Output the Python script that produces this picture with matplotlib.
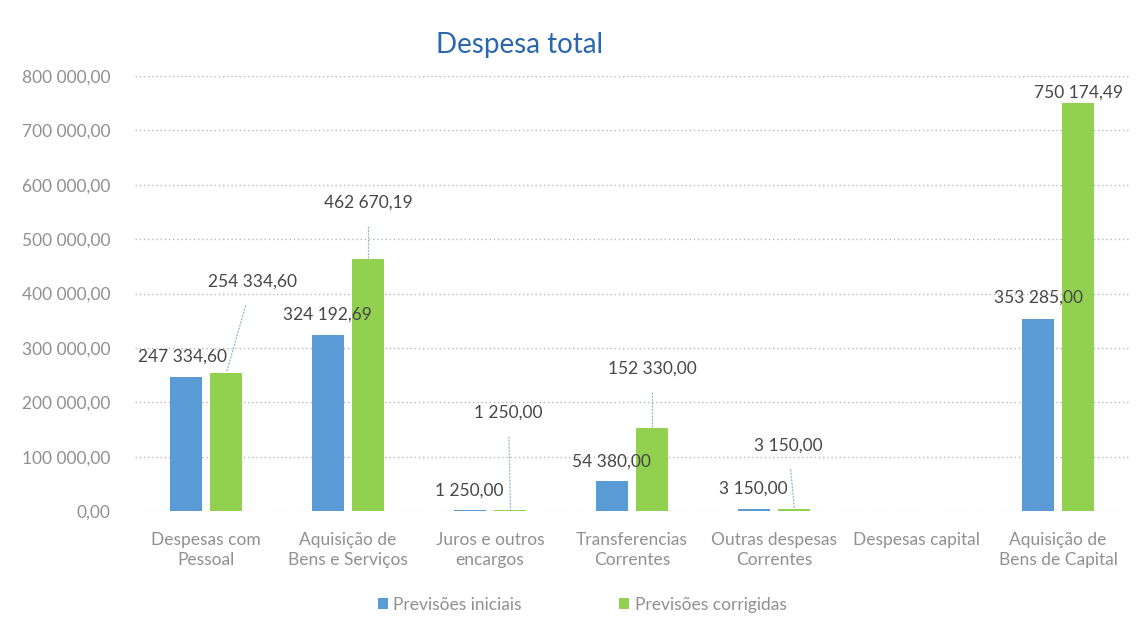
import numpy as np
import matplotlib
matplotlib.use("Agg")
import matplotlib.pyplot as plt
from matplotlib.ticker import FuncFormatter

# Data
categories = [
    "Despesas com\nPessoal",
    "Aquisição de\nBens e Serviços",
    "Juros e outros\nencargos",
    "Transferencias\nCorrentes",
    "Outras despesas\nCorrentes",
    "Despesas capital",
    "Aquisição de\nBens de Capital",
]
previsoes_iniciais = [247334.60, 324192.69, 1250.00, 54380.00, 3150.00, np.nan, 353285.00]
previsoes_corrigidas = [254334.60, 462670.19, 1250.00, 152330.00, 3150.00, np.nan, 750174.49]
series_names = ["Previsões iniciais", "Previsões corrigidas"]

# label offsets in pixels (dx, dy) from bar top, as placed in the original
offs_iniciais = [(-3, 20), (0, 20), (0, 20), (0, 20), (0, 21), None, (1, 21)]
offs_corrigidas = [(26, 91), (0, 57), (-2, 98), (0, 60), (-6, 64), None, (0, 10)]

BLUE = "#5B9BD5"
GREEN = "#92D050"
LABEL_COLOR = "#474747"
TICK_COLOR = "#909090"

plt.rcParams["font.family"] = ["Lato", "DejaVu Sans"]


def fmt_pt(v, pos=None):
    return f"{v:,.2f}".replace(",", " ").replace(".", ",")


fig = plt.figure(figsize=(11.44, 6.31), dpi=100)
ax = fig.add_axes([135 / 1144, 1 - 511 / 631, (1129 - 135) / 1144, (511 - 76) / 631])

x = np.arange(len(categories))
width = 0.225
off = 0.144
b1 = ax.bar(x - off, previsoes_iniciais, width, color=BLUE, label=series_names[0], zorder=3)
b2 = ax.bar(x + off, previsoes_corrigidas, width, color=GREEN, label=series_names[1], zorder=3)

ax.set_xlim(-0.5, len(categories) - 0.5)
ax.set_ylim(0, 800000)
ax.set_yticks(np.arange(0, 800001, 100000))
ax.yaxis.set_major_formatter(FuncFormatter(fmt_pt))
ax.set_xticks(x)
ax.set_xticklabels(categories, va="top", linespacing=1.3)
ax.tick_params(axis="both", length=0, labelsize=12.5, colors=TICK_COLOR)
ax.tick_params(axis="x", pad=15)
ax.tick_params(axis="y", pad=18)
ax.grid(axis="y", linestyle=(0, (1, 2)), color="#B8B8B8", linewidth=1.0, zorder=0)
for s in ax.spines.values():
    s.set_visible(False)


def add_labels(xs, vals, offsets):
    for xi, v, o in zip(xs, vals, offsets):
        if o is None or np.isnan(v):
            continue
        dx, dy = o
        leader = dy > 40
        ax.annotate(
            fmt_pt(v), xy=(xi, v), xytext=(dx, dy), textcoords="offset pixels",
            ha="center", va="center", fontsize=12.5, color=LABEL_COLOR, zorder=5,
            arrowprops=dict(arrowstyle="-", linestyle=":", color="#9DB4CC",
                            lw=0.9, shrinkA=10, shrinkB=0) if leader else None,
        )


add_labels(x - off, previsoes_iniciais, offs_iniciais)
add_labels(x + off, previsoes_corrigidas, offs_corrigidas)

fig.text(520 / 1144, 1 - 45 / 631, "Despesa total", ha="center", va="center",
         fontsize=20, color="#2A67AE")

fig.legend(handles=[b1, b2], labels=series_names, loc="center",
           bbox_to_anchor=(582 / 1144, 1 - 605 / 631), ncol=2, frameon=False,
           fontsize=12.5, handlelength=0.6, handleheight=0.6, handletextpad=0.3,
           columnspacing=5.6, labelcolor=TICK_COLOR)

fig.savefig("out.png", dpi=100, facecolor="white")
